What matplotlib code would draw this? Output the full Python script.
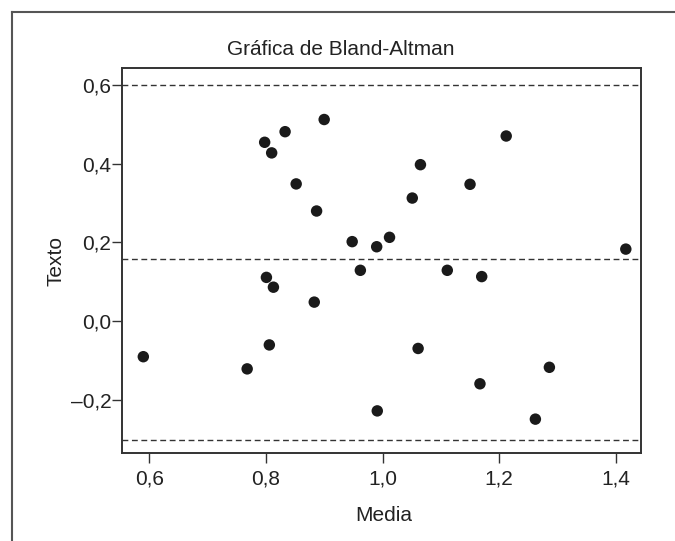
import matplotlib
matplotlib.use("Agg")
import matplotlib.pyplot as plt
from matplotlib.lines import Line2D

# Data
media = [0.590, 0.768, 0.798, 0.810, 0.833, 0.900, 0.852, 0.887, 0.801, 0.813,
         0.806, 0.883, 0.948, 0.962, 0.990, 1.012, 0.991, 1.051, 1.065, 1.061,
         1.111, 1.150, 1.170, 1.167, 1.212, 1.262, 1.286, 1.417]
texto = [-0.091, -0.122, 0.455, 0.428, 0.482, 0.513, 0.349, 0.280, 0.111, 0.086,
         -0.061, 0.048, 0.202, 0.129, 0.189, 0.213, -0.229, 0.313, 0.398, -0.070,
         0.129, 0.348, 0.113, -0.160, 0.471, -0.250, -0.118, 0.183]
ref_lines = [0.600, 0.159, -0.303]

xticks = [0.6, 0.8, 1.0, 1.2, 1.4]
xtick_labels = ["0,6", "0,8", "1,0", "1,2", "1,4"]
yticks = [-0.2, 0.0, 0.2, 0.4, 0.6]
ytick_labels = ["\u20130,2", "0,0", "0,2", "0,4", "0,6"]

title = "Gráfica de Bland-Altman"
xlabel = "Media"
ylabel = "Texto"

plt.rcParams['font.family'] = ['Liberation Sans', 'DejaVu Sans']
text_color = "#222222"
fs = 15

fig = plt.figure(figsize=(6.75, 5.41), dpi=100)
ax = fig.add_axes([0.1812, 0.1621, 0.9496 - 0.1812, 0.8749 - 0.1621])

ax.scatter(media, texto, s=68, color="#1a1a1a", edgecolors="none", zorder=3)
for v in ref_lines:
    ax.axhline(v, color="#333333", lw=1.0, linestyle=(0, (4.2, 2.6)), zorder=2)

ax.set_xlim(0.554, 1.443)
ax.set_ylim(-0.337, 0.645)
ax.set_xticks(xticks)
ax.set_xticklabels(xtick_labels)
ax.set_yticks(yticks)
ax.set_yticklabels(ytick_labels)

for sp in ax.spines.values():
    sp.set_linewidth(1.4)
    sp.set_color("#333333")
ax.tick_params(axis='both', direction='out', length=7, width=1.0,
               color="#333333", labelsize=fs, labelcolor=text_color)
ax.tick_params(axis='y', pad=1)
ax.tick_params(axis='x', pad=5)

fig.text(341 / 675, 1 - 55 / 541, title, ha='center', va='baseline',
         fontsize=fs, color=text_color)
fig.text(384 / 675, 1 - 521 / 541, xlabel, ha='center', va='baseline',
         fontsize=fs, color=text_color)
fig.text(56.5 / 675, 1 - 261 / 541, ylabel, ha='center', va='center',
         rotation=90, fontsize=fs, color=text_color)

# Outer frame (top and left edges)
fig.add_artist(Line2D([12 / 675, 1.0], [1 - 12 / 541, 1 - 12 / 541],
                      transform=fig.transFigure, color="#555555", lw=1.5))
fig.add_artist(Line2D([12 / 675, 12 / 675], [1 - 12 / 541, 0.0],
                      transform=fig.transFigure, color="#555555", lw=1.5))

fig.savefig("out.png", dpi=100, facecolor="white")
